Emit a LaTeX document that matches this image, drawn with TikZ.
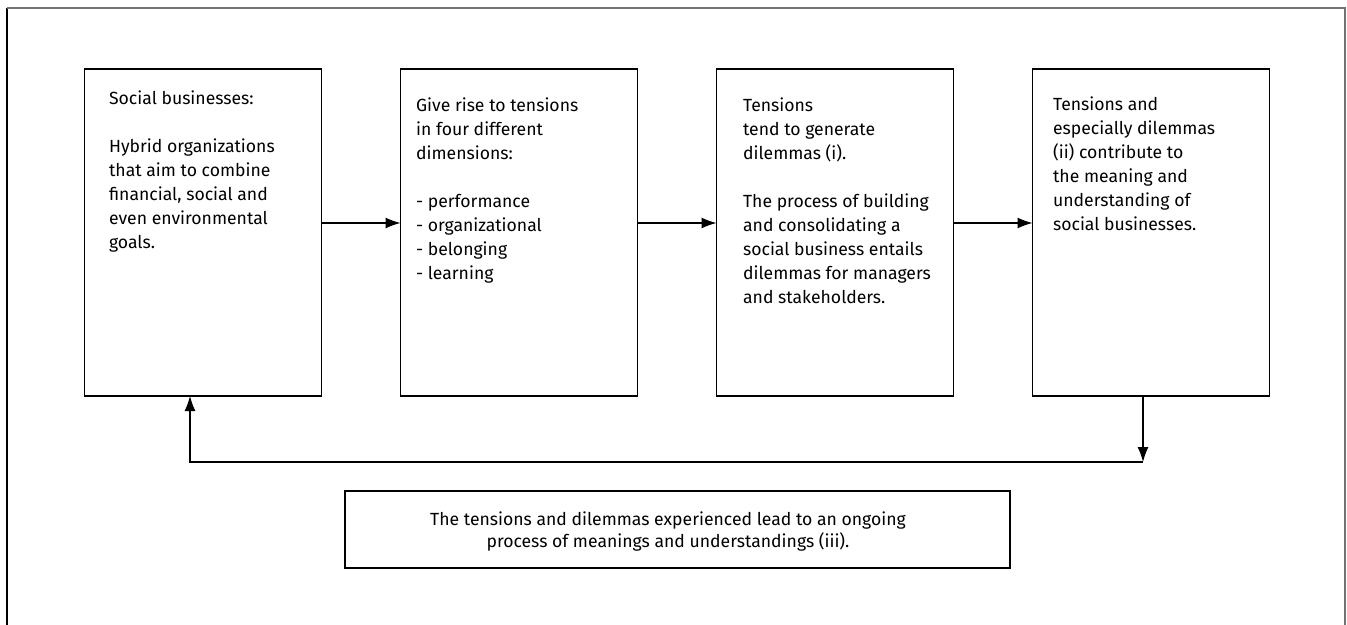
\documentclass[tikz,border=0pt]{standalone}
\usepackage{fontspec}
\setmainfont{Fira Sans}
\usetikzlibrary{positioning,arrows.meta}

\begin{document}
\begin{tikzpicture}[x=0.5pt,y=-0.5pt,
	box/.style={shape=rectangle,draw=black,line width=0.6pt,inner sep=0pt,outer sep=0pt,minimum width=118.5pt,minimum height=163.5pt},
	boxtext/.style={anchor=north west,inner sep=0pt,align=left,font=\fontsize{8.8}{12}\selectfont},
	>={Latex[length=7.5pt,width=5.5pt]},line width=0.6pt]
	\useasboundingbox (0,0) rectangle (1347,625);
	% frame, open at the bottom
	\draw[black,line width=0.7pt] (7,625) -- (7,8);
	\draw[black!55,line width=1pt] (7,8) -- (1345,8) -- (1345,625);

	\node[box] (B1) at (203,232.5) {};
	\node[box,right=39.5pt of B1] (B2) {};
	\node[box,right=39.5pt of B2] (B3) {};
	\node[box,right=39.5pt of B3] (B4) {};

	\node[boxtext] (T1) at ([xshift=12pt,yshift=-10.5pt]B1.north west) {Social businesses:\\[12pt]Hybrid organizations\\that aim to combine\\financial, social and\\even environmental\\goals.};
	\node[boxtext] (T2) at ([xshift=7.5pt,yshift=-14pt]B2.north west) {Give rise to tensions\\in four different\\dimensions:\\[12pt]- performance\\- organizational\\- belonging\\- learning};
	\node[boxtext] (T3) at ([xshift=13pt,yshift=-14pt]B3.north west) {Tensions\\tend to generate\\dilemmas (i).\\[12pt]The process of building\\and consolidating a\\social business entails\\dilemmas for managers\\and stakeholders.};
	\node[boxtext] (T4) at ([xshift=10pt,yshift=-13.5pt]B4.north west) {Tensions and\\especially dilemmas\\(ii) contribute to\\the meaning and\\understanding of\\social businesses.};

	\node[shape=rectangle,draw=black,line width=0.6pt,inner sep=0pt,minimum width=332.5pt,minimum height=38.5pt] (B5) at (677.5,529.5) {};
	\node[align=center,inner sep=0pt,font=\fontsize{8.8}{11}\selectfont] (T5) at ([xshift=-4.75pt,yshift=-1pt]B5.center) {The tensions and dilemmas experienced lead to an ongoing\\process of meanings and understandings (iii).};

	\path [->] ([yshift=4.75pt]B1.east) edge ([yshift=4.75pt]B2.west);
	\path [->] ([yshift=4.75pt]B2.east) edge ([yshift=4.75pt]B3.west);
	\path [->] ([yshift=4.75pt]B3.east) edge ([yshift=4.75pt]B4.west);

	% feedback loop
	\coordinate (C1) at (1143,462);
	\coordinate (C2) at (190,462);
	\draw [->] (B4.south -| C1) -- (C1);
	\draw [->] (C1) -- (C2) -- (B1.south -| C2);
\end{tikzpicture}
\end{document}
